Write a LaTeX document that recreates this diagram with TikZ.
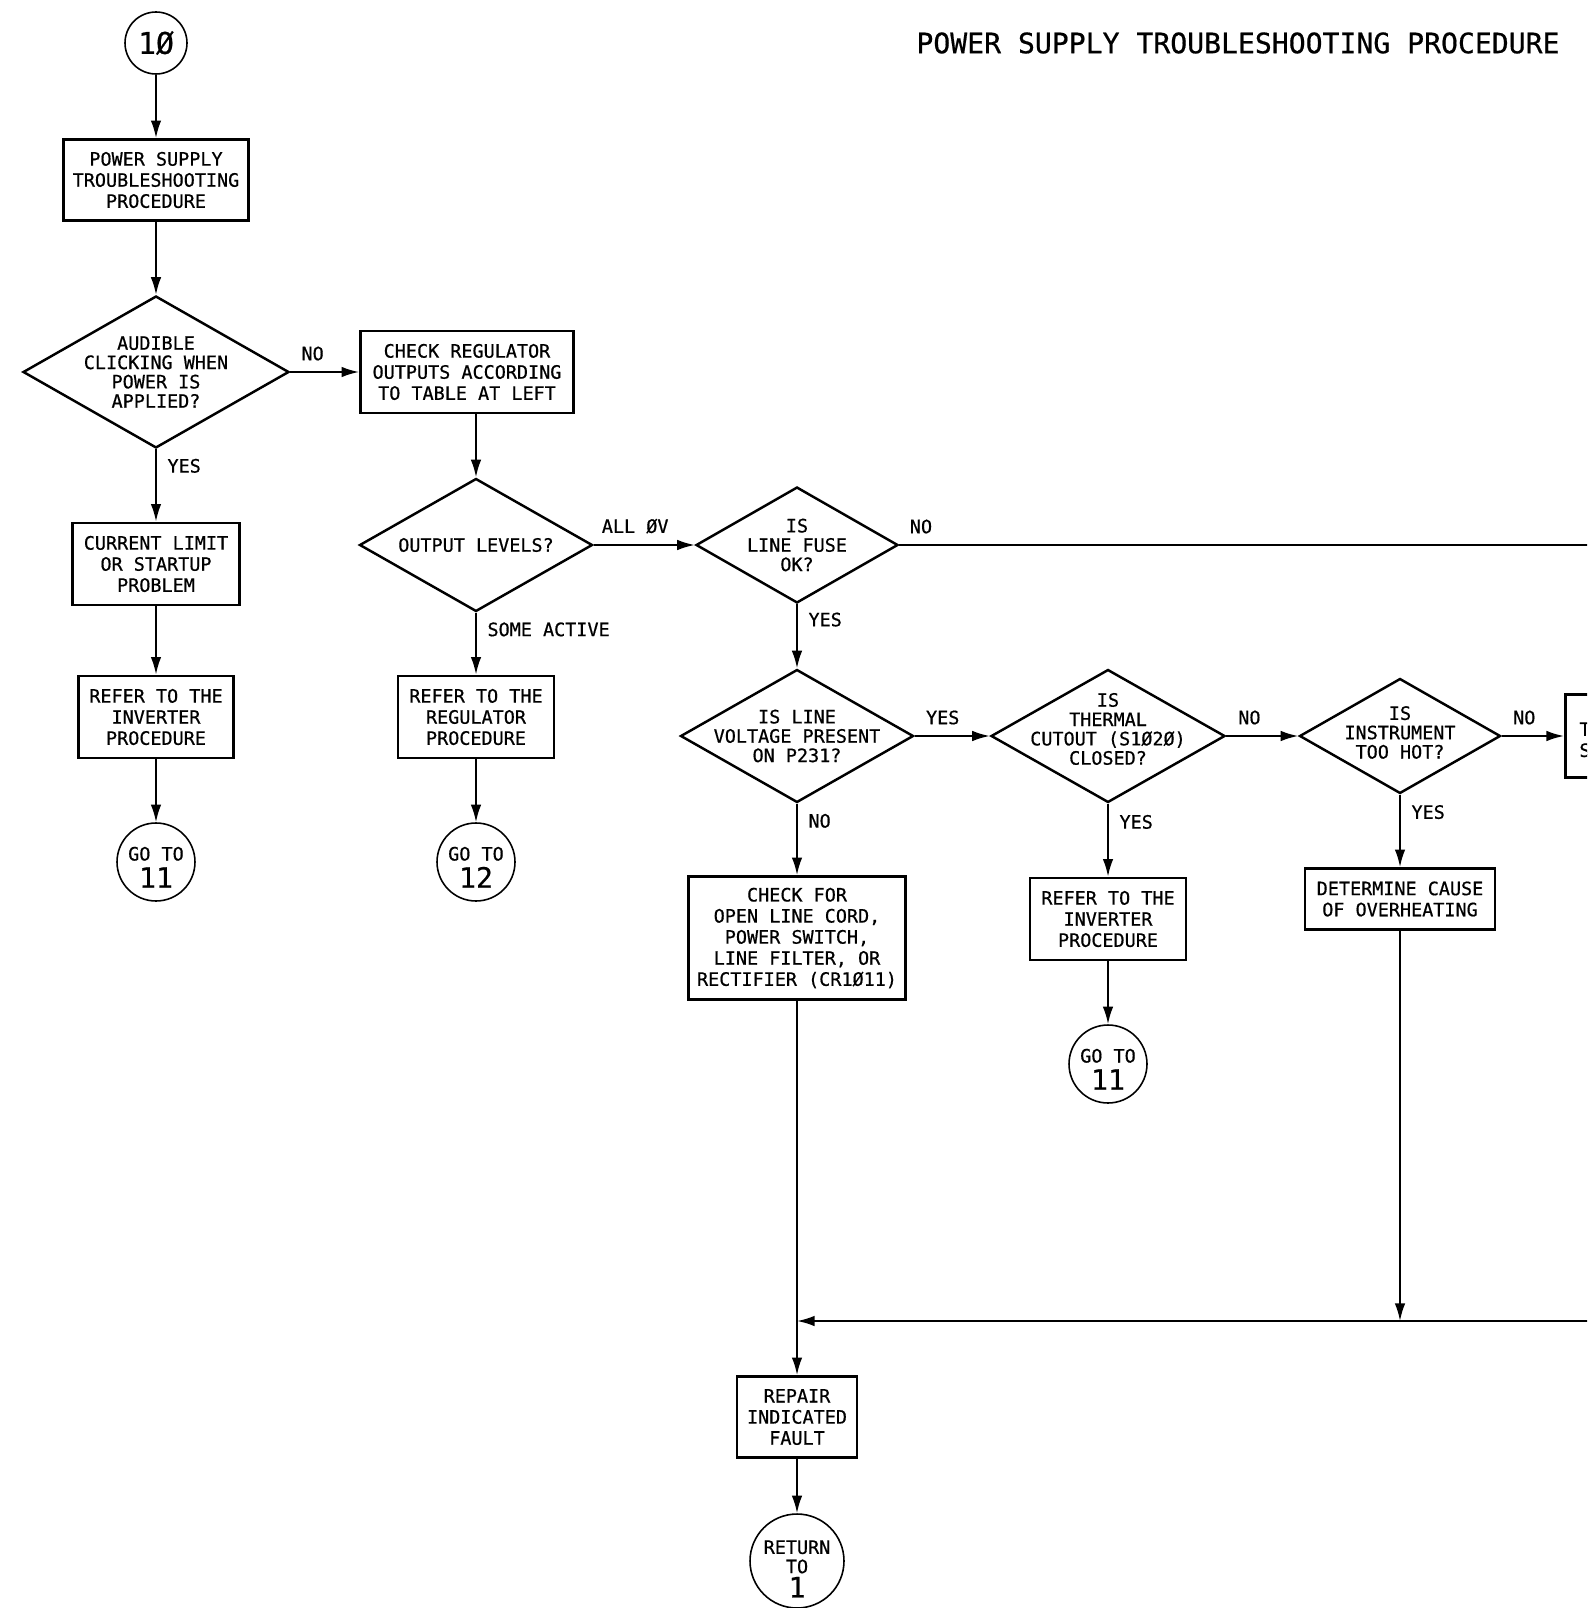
\documentclass[tikz,border=0pt]{standalone}
\usepackage{fontspec}
\setmainfont{DejaVu Sans Mono}[FakeBold=0.6]
\usetikzlibrary{arrows.meta, positioning, calc, shapes.geometric}
\newcommand{\bignum}{\fontsize{16}{16}\selectfont}
\tikzset{
    box/.style = {draw, line width=1.6pt, align=center, inner sep=0pt, font=\fontsize{10.5}{12}\selectfont},
    dia/.style = {diamond, draw, line width=1.4pt, inner sep=0pt},
    dtxt/.style = {align=center, inner sep=0pt, font=\fontsize{10.5}{11}\selectfont},
    conn/.style = {circle, draw, line width=0.9pt, inner sep=0pt, minimum size=1.56cm, align=center, font=\fontsize{10.5}{15.5}\selectfont},
    arr/.style = {-{Latex[length=10pt, width=6pt]}, line width=1.1pt},
    lbl/.style = {font=\fontsize{10.5}{12}\selectfont, inner sep=1pt},
    lbla/.style = {lbl, anchor=south west, yshift=5pt},
    lblr/.style = {lbl, anchor=west, xshift=5pt}
}

\begin{document}
\begin{tikzpicture}[x=0.02cm, y=-0.02cm]
\useasboundingbox (0,0) rectangle (1587,1608);
\clip (0,0) rectangle (1587,1608);

% Title
\node[font=\fontsize{16}{16}\selectfont] (title) at (1238,43) {POWER SUPPLY TROUBLESHOOTING PROCEDURE};

% Left column
\node[conn, minimum size=1.24cm, font=\fontsize{17}{17}\selectfont] (c10) at (156,43) {1Ø};
\node[box, minimum width=3.7cm, minimum height=1.62cm] (ps) at (156,180) {POWER SUPPLY\\TROUBLESHOOTING\\PROCEDURE};
\node[dia, minimum width=5.32cm, minimum height=3.04cm,
      label={[dtxt]center:AUDIBLE\\CLICKING WHEN\\POWER IS\\APPLIED?}] (q1) at (156,372) {};
\node[box, minimum width=3.34cm, minimum height=1.64cm] (cur) at (156,564) {CURRENT LIMIT\\OR STARTUP\\PROBLEM};
\node[box, minimum width=3.1cm, minimum height=1.64cm] (inv1) at (156,717) {REFER TO THE\\INVERTER\\PROCEDURE};
\node[conn, label={[conn, draw=none, yshift=-3pt]center:GO TO\\{\bignum 11}}] (g11a) at (156,862) {};

% Regulator column
\node[box, minimum width=4.26cm, minimum height=1.64cm] (chk) at (467,372) {CHECK REGULATOR\\OUTPUTS ACCORDING\\TO TABLE AT LEFT};
\node[dia, minimum width=4.66cm, minimum height=2.66cm,
      label={[dtxt]center:OUTPUT LEVELS?}] (q2) at (476,545) {};
\node[box, minimum width=3.12cm, minimum height=1.64cm] (reg) at (476,717) {REFER TO THE\\REGULATOR\\PROCEDURE};
\node[conn, label={[conn, draw=none, yshift=-3pt]center:GO TO\\{\bignum 12}}] (g12) at (476,862) {};

% Line column
\node[dia, minimum width=4.04cm, minimum height=2.32cm,
      label={[dtxt]center:IS\\LINE FUSE\\OK?}] (q3) at (797,545) {};
\node[dia, minimum width=4.66cm, minimum height=2.66cm,
      label={[dtxt]center:IS LINE\\VOLTAGE PRESENT\\ON P231?}] (q4) at (797,736) {};
\node[box, minimum width=4.34cm, minimum height=2.46cm] (chkf) at (797,938) {CHECK FOR\\OPEN LINE CORD,\\POWER SWITCH,\\LINE FILTER, OR\\RECTIFIER (CR1Ø11)};
\node[box, minimum width=2.4cm, minimum height=1.62cm] (rep) at (797,1417) {REPAIR\\INDICATED\\FAULT};
\node[conn, minimum size=1.88cm,
      label={[align=center, inner sep=0pt, font=\fontsize{10.5}{11}\selectfont, yshift=-4.5pt]center:RETURN\\TO\\[1pt]{\bignum 1}}] (ret) at (797,1561) {};

% Thermal column
\node[dia, minimum width=4.68cm, minimum height=2.66cm,
      label={[dtxt, yshift=4pt]center:IS\\THERMAL\\CUTOUT (S1Ø2Ø)\\CLOSED?}] (q5) at (1108,736) {};
\node[box, minimum width=3.12cm, minimum height=1.64cm] (inv2) at (1108,919) {REFER TO THE\\INVERTER\\PROCEDURE};
\node[conn, label={[conn, draw=none, yshift=-3pt]center:GO TO\\{\bignum 11}}] (g11b) at (1108,1064) {};

% Overheat column
\node[dia, minimum width=4.02cm, minimum height=2.3cm,
      label={[dtxt, yshift=2pt]center:IS\\INSTRUMENT\\TOO HOT?}] (q6) at (1400,736) {};
\node[box, minimum width=3.8cm, minimum height=1.22cm] (det) at (1400,899) {DETERMINE CAUSE\\OF OVERHEATING};
\node[box, anchor=west, minimum height=1.66cm, text width=3.4cm, align=left, inner xsep=0.28cm] (tst) at (1564,736) {\mbox{}\\T\\S};

% Off-page ends and junctions
\coordinate (e1) at (1620,545);
\coordinate (e2) at (1620,1321);
\coordinate (j1) at (797,1321);
\coordinate (j2) at (1400,1321);

% Connectors
\draw[arr] (c10) -- (ps);
\draw[arr] (ps) -- (q1);
\draw[arr] (q1) -- node[lbla, pos=0.125] {NO} (chk);
\draw[arr] (q1) -- node[lblr, pos=0.23] {YES} (cur);
\draw[arr] (cur) -- (inv1);
\draw[arr] (inv1) -- (g11a);

\draw[arr] (q2.north |- chk.south) -- (q2.north);
\draw[arr] (q2) -- node[lbla, pos=0.41, anchor=south] {ALL ØV} (q3);
\draw[arr] (q2) -- node[lblr, pos=0.27] {SOME ACTIVE} (reg);
\draw[arr] (reg) -- (g12);

\draw[line width=1.1pt] (q3.east) -- node[lbla, pos=0.011] {NO} (e1);
\draw[arr] (q3) -- node[lblr, pos=0.24] {YES} (q4);
\draw[arr] (q4) -- node[lbla, pos=0.115] {YES} (q5);
\draw[arr] (q4) -- node[lblr, pos=0.24] {NO} (chkf);
\draw[arr] (q5) -- node[lbla, pos=0.13] {NO} (q6);
\draw[arr] (q5) -- node[lblr, pos=0.25] {YES} (inv2);
\draw[arr] (inv2) -- (g11b);
\draw[arr] (q6.east) -- node[lbla, pos=0.14] {NO} (tst.west);
\draw[arr] (q6) -- node[lblr, pos=0.24] {YES} (det);

% Return path
\draw[arr] (det) -- (j2);
\draw[arr] (e2) -- (j1);
\draw[arr] (chkf) -- (rep);
\draw[arr] (rep) -- (ret);
\end{tikzpicture}
\end{document}
